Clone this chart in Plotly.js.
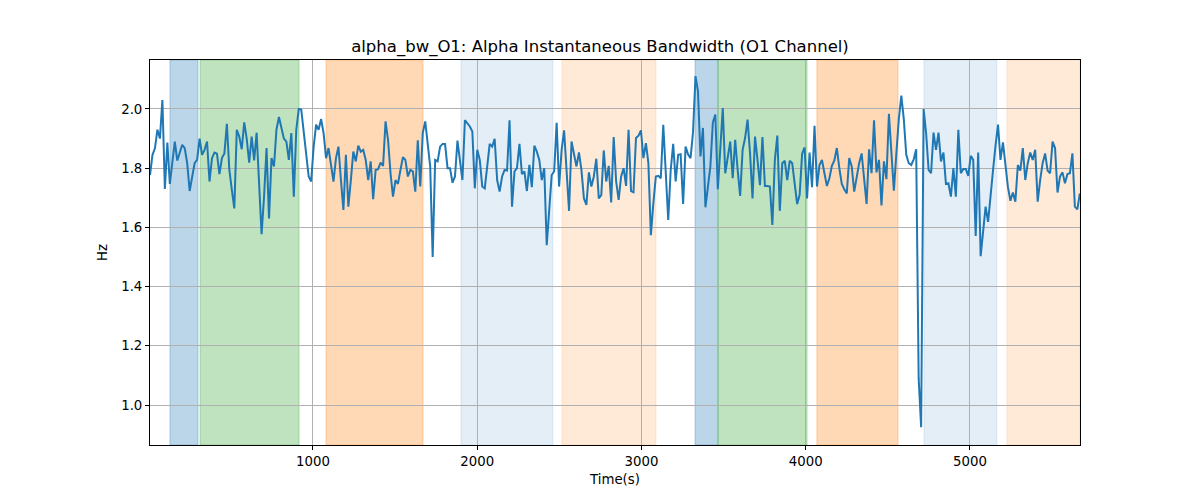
<!DOCTYPE html>
<html>
<head>
<meta charset="utf-8">
<script src="https://cdn.plot.ly/plotly-3.0.1.min.js"></script>
<style>
  html, body { margin: 0; padding: 0; background: #fff; }
  #chart { width: 1200px; height: 500px; }
</style>
</head>
<body>
<div id="chart"></div>
<script>
// 采样范围 (s)
const T_START = 7.6;
const T_END = 5669;

// alpha 带宽 (Hz)，按时间顺序分段读取
const bwPart1 = [1.777, 1.845, 1.868, 1.93, 1.90, 2.03, 1.73, 1.887, 1.747, 1.817, 1.89, 1.826, 1.85, 1.879, 1.868, 1.817, 1.723, 1.772, 1.817, 1.828, 1.90, 1.845, 1.862, 1.89, 1.755, 1.834, 1.853, 1.849, 1.78, 1.834, 1.85, 1.95, 1.794, 1.727, 1.664, 1.93, 1.907, 1.864, 1.955, 1.90, 1.819, 1.907, 1.826, 1.92, 1.76, 1.577, 1.704, 1.868];
const bwPart2 = [1.63, 1.834, 1.806, 1.93, 1.973, 1.94, 1.90, 1.89, 1.828, 1.919, 1.704, 1.93, 2.0, 1.998, 1.919, 1.845, 1.772, 1.755, 1.873, 1.947, 1.93, 1.966, 1.919, 1.834, 1.868, 1.811, 1.755, 1.834, 1.873, 1.76, 1.659, 1.845, 1.67, 1.76, 1.856, 1.823, 1.876, 1.856, 1.862, 1.828, 1.76, 1.823, 1.695, 1.794, 1.797, 1.819, 1.808, 1.958];
const bwPart3 = [1.896, 1.783, 1.704, 1.76, 1.747, 1.794, 1.837, 1.828, 1.772, 1.794, 1.789, 1.721, 1.894, 1.738, 1.919, 1.958, 1.879, 1.806, 1.50, 1.828, 1.823, 1.873, 1.882, 1.882, 1.80, 1.80, 1.751, 1.772, 1.893, 1.828, 1.76, 1.962, 1.953, 1.941, 1.924, 1.732, 1.862, 1.828, 1.738, 1.732, 1.806, 1.882, 1.873, 1.899, 1.76, 1.721, 1.772];
const bwPart4 = [1.794, 1.792, 1.962, 1.67, 1.789, 1.80, 1.882, 1.78, 1.789, 1.723, 1.811, 1.736, 1.876, 1.856, 1.828, 1.76, 1.80, 1.54, 1.659, 1.777, 1.789, 1.953, 1.738, 1.862, 1.928, 1.772, 1.656, 1.89, 1.845, 1.806, 1.853, 1.794, 1.698, 1.676, 1.786, 1.738, 1.772, 1.832, 1.698, 1.709, 1.86, 1.755, 1.808, 1.684, 1.905, 1.755, 1.693];
const bwPart5 = [1.772, 1.80, 1.74, 1.93, 1.723, 1.719, 1.902, 1.91, 1.928, 1.834, 1.885, 1.817, 1.574, 1.681, 1.772, 1.774, 1.766, 1.947, 1.783, 1.625, 1.794, 1.882, 1.755, 1.845, 1.847, 1.679, 1.873, 1.847, 1.834, 1.921, 2.111, 2.06, 1.84, 1.936, 1.668, 1.732, 1.806, 1.955, 1.981, 1.729, 1.885, 2.003, 1.783, 1.84, 1.89, 1.766, 1.896];
const bwPart6 = [1.794, 1.706, 1.862, 1.902, 1.964, 1.85, 1.698, 1.907, 1.828, 1.743, 1.905, 1.74, 1.74, 1.738, 1.608, 1.828, 1.91, 1.656, 1.817, 1.825, 1.76, 1.825, 1.817, 1.749, 1.679, 1.71, 1.849, 1.87, 1.698, 1.853, 1.736, 1.943, 1.738, 1.811, 1.828, 1.783, 1.74, 1.766, 1.808, 1.826, 1.868, 1.80, 1.747, 1.729, 1.715, 1.834, 1.806];
const bwPart7 = [1.721, 1.772, 1.817, 1.85, 1.76, 1.679, 1.864, 1.783, 1.962, 1.786, 1.828, 1.674, 1.823, 1.763, 1.984, 1.849, 1.724, 1.85, 1.966, 2.045, 1.966, 1.845, 1.817, 1.811, 1.83, 1.864, 1.09, 0.925, 2.0, 1.919, 1.794, 1.783, 1.92, 1.862, 1.92, 1.823, 1.853, 1.747, 1.749, 1.704, 1.80, 1.704, 1.93, 1.783, 1.797, 1.797];
const bwPart8 = [1.774, 1.842, 1.828, 1.571, 1.853, 1.503, 1.591, 1.67, 1.619, 1.715, 1.794, 1.876, 1.947, 1.828, 1.887, 1.811, 1.736, 1.69, 1.718, 1.687, 1.811, 1.792, 1.868, 1.76, 1.817, 1.853, 1.828, 1.862, 1.687, 1.76, 1.817, 1.85, 1.792, 1.783, 1.89, 1.868, 1.718, 1.772, 1.786, 1.749, 1.78, 1.783, 1.85, 1.67, 1.661, 1.715];

// 状态区间 (s)
const segStart = [129, 312, 1079, 1901, 2516, 3326, 3466, 4068, 4720, 5225];
const segEnd   = [300, 915, 1670, 2461, 3088, 3466, 4008, 4562, 5164, 5670];
const segColor = ['#1f77b4', '#2ca02c', '#ff7f0e', '#1f77b4', '#ff7f0e', '#1f77b4', '#2ca02c', '#ff7f0e', '#1f77b4', '#ff7f0e'];
const segAlpha = [0.3, 0.3, 0.3, 0.12, 0.16, 0.3, 0.3, 0.3, 0.12, 0.16];

const yTicks = [1.0, 1.2, 1.4, 1.6, 1.8, 2.0];
const xTicks = [1000, 2000, 3000, 4000, 5000];

const bw = [].concat(bwPart1, bwPart2, bwPart3, bwPart4, bwPart5, bwPart6, bwPart7, bwPart8);
const time = bw.map((_, i) => T_START + i * (T_END - T_START) / (bw.length - 1));

function rgba(hex, a) {
    const r = parseInt(hex.slice(1, 3), 16);
    const g = parseInt(hex.slice(3, 5), 16);
    const b = parseInt(hex.slice(5, 7), 16);
    return `rgba(${r},${g},${b},${a})`;
}

const shapes = segStart.map((s, i) => ({
    type: 'rect',
    xref: 'x',
    yref: 'paper',
    x0: s,
    x1: segEnd[i],
    y0: 0,
    y1: 1,
    fillcolor: rgba(segColor[i], segAlpha[i]),
    line: { color: rgba(segColor[i], segAlpha[i]), width: 1 },
    layer: 'below'
}));

const font = { family: 'DejaVu Sans, sans-serif', color: '#000' };

const axisBase = {
    showline: true,
    mirror: true,
    linecolor: '#000',
    linewidth: 1,
    ticks: 'outside',
    ticklen: 4,
    tickwidth: 1,
    tickcolor: '#000',
    showgrid: true,
    gridcolor: '#b0b0b0',
    gridwidth: 0.8,
    zeroline: false,
    tickfont: { ...font, size: 13.3 }
};

const layout = {
    width: 1200,
    height: 500,
    margin: { l: 150, r: 120, t: 60, b: 55 },
    paper_bgcolor: '#fff',
    plot_bgcolor: '#fff',
    showlegend: false,
    font: font,
    title: {
        text: 'alpha_bw_O1: Alpha Instantaneous Bandwidth (O1 Channel)',
        font: { ...font, size: 16.5 },
        x: 0.5,
        xanchor: 'center',
        y: 1 - 46 / 500,
        yanchor: 'middle'
    },
    xaxis: {
        ...axisBase,
        range: [T_START, T_END + 1],
        tickvals: xTicks,
        ticktext: xTicks.map(String),
        title: { text: 'Time(s)', font: { ...font, size: 13.3 }, standoff: 6 }
    },
    yaxis: {
        ...axisBase,
        range: [0.865, 2.1655],
        tickvals: yTicks,
        ticktext: yTicks.map(v => v.toFixed(1)),
        title: { text: 'Hz', font: { ...font, size: 13.3 }, standoff: 10 }
    },
    shapes: shapes
};

const data = [{
    x: time,
    y: bw,
    type: 'scatter',
    mode: 'lines',
    line: { color: '#1f77b4', width: 2 },
    hoverinfo: 'skip'
}];

Plotly.newPlot('chart', data, layout, { displayModeBar: false, responsive: false });
</script>
</body>
</html>
